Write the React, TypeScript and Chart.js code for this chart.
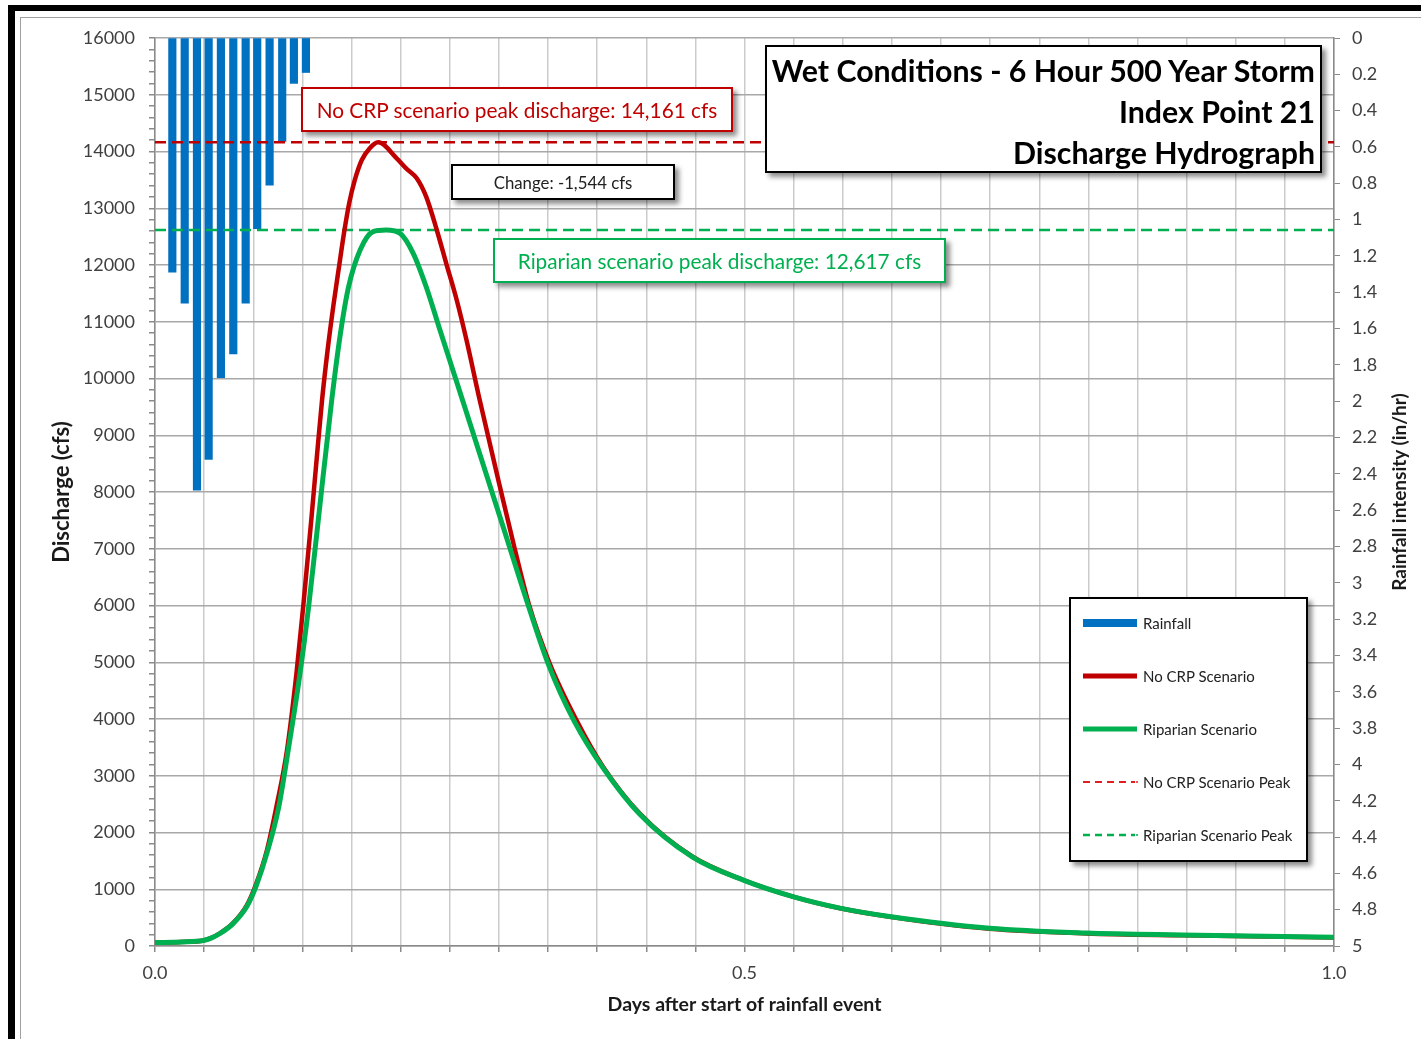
import React, { useEffect, useRef } from 'react';
import { Chart, registerables } from 'chart.js';

Chart.register(...registerables);

// ---------- DATA ----------
const rainDays = [0.0147, 0.0252, 0.0356, 0.0455, 0.0559, 0.0664, 0.0769, 0.0867, 0.0972, 0.1079, 0.1178, 0.128];
const rainIntensity = [1.29, 1.46, 2.49, 2.32, 1.87, 1.74, 1.46, 1.05, 0.81, 0.57, 0.25, 0.19];

const noCrpDays = [
  0.0, 0.022, 0.041, 0.048, 0.055, 0.066, 0.078, 0.086, 0.095, 0.103, 0.112, 0.12, 0.1257, 0.1328, 0.1372, 0.1417,
  0.1464, 0.1514, 0.1563, 0.1606, 0.1648, 0.1695, 0.1754, 0.1818, 0.1893, 0.205, 0.213, 0.222, 0.23,
  0.239, 0.247, 0.2559, 0.2642, 0.2754, 0.2936, 0.3051, 0.3174, 0.3347, 0.3574, 0.38, 0.411, 0.456,
  0.499, 0.541, 0.581, 0.623, 0.708, 0.79, 0.871, 1.0,
];
const noCrpCfs = [
  60, 72, 98, 145, 224, 400, 722, 1105, 1692, 2455, 3454, 4805, 5979, 7565, 8600, 9621,
  10500, 11300, 12000, 12600, 13100, 13500, 13850, 14050, 14161, 13880, 13703, 13528, 13204,
  12617, 12030, 11383, 10678, 9621, 8000, 7000, 6000, 4981, 3982, 3159, 2338, 1573,
  1163, 869, 664, 516, 305, 222, 188, 148,
];

const riparianDays = [
  0.0, 0.022, 0.041, 0.048, 0.055, 0.066, 0.078, 0.086, 0.095, 0.105, 0.113, 0.123, 0.1303, 0.1388, 0.1499, 0.1573,
  0.1642, 0.174, 0.185, 0.196, 0.208, 0.219, 0.23, 0.2408, 0.2517, 0.2608, 0.2858, 0.3012, 0.3166,
  0.3339, 0.3559, 0.38, 0.411, 0.456, 0.499, 0.541, 0.581, 0.623, 0.708, 0.79, 0.871, 1.0,
];
const riparianCfs = [
  60, 72, 97, 143, 220, 390, 700, 1070, 1640, 2455, 3454, 4805, 5979, 7565, 9621, 10797,
  11617, 12264, 12587, 12617, 12555, 12206, 11617, 10913, 10208, 9621, 8000, 7000, 6000,
  4950, 3950, 3140, 2325, 1565, 1160, 870, 668, 520, 312, 228, 194, 155,
];

const noCrpPeak = 14161;
const riparianPeak = 12617;

const xTickValues = [0, 0.5, 1];
const xTickLabels = ['0.0', '0.5', '1.0'];
const xGridHours = 24;

const FONT = 'Lato, "Open Sans", "DejaVu Sans", sans-serif';
const RED = '#c00000';
const GREEN = '#00b050';
const BLUE = '#0070c0';

const legendItems = [
  { label: 'Rainfall', color: BLUE, width: 8, dash: '' },
  { label: 'No CRP Scenario', color: RED, width: 5, dash: '' },
  { label: 'Riparian Scenario', color: GREEN, width: 5, dash: '' },
  { label: 'No CRP Scenario Peak', color: '#e02020', width: 2, dash: '7 5' },
  { label: 'Riparian Scenario Peak', color: GREEN, width: 2.5, dash: '7 5' },
];

export default function App() {
  const ref = useRef<HTMLCanvasElement>(null);

  useEffect(() => {
    const canvas = ref.current;
    if (!canvas) return;
    const chart = new Chart(canvas, {
      type: 'line',
      data: {
        datasets: [
          {
            type: 'line',
            label: 'Riparian Scenario',
            data: riparianDays.map((x, i) => ({ x, y: riparianCfs[i] })),
            borderColor: GREEN,
            borderWidth: 5,
            pointRadius: 0,
            cubicInterpolationMode: 'monotone',
            yAxisID: 'y',
            order: 1,
          },
          {
            type: 'line',
            label: 'No CRP Scenario',
            data: noCrpDays.map((x, i) => ({ x, y: noCrpCfs[i] })),
            borderColor: RED,
            borderWidth: 4.5,
            pointRadius: 0,
            cubicInterpolationMode: 'monotone',
            yAxisID: 'y',
            order: 2,
          },
          {
            type: 'line',
            label: 'No CRP Scenario Peak',
            data: [{ x: 0, y: noCrpPeak }, { x: 1, y: noCrpPeak }],
            borderColor: RED,
            borderWidth: 2.5,
            borderDash: [11, 6],
            pointRadius: 0,
            yAxisID: 'y',
            order: 3,
          },
          {
            type: 'line',
            label: 'Riparian Scenario Peak',
            data: [{ x: 0, y: riparianPeak }, { x: 1, y: riparianPeak }],
            borderColor: GREEN,
            borderWidth: 2.5,
            borderDash: [11, 6],
            pointRadius: 0,
            yAxisID: 'y',
            order: 3,
          },
          {
            type: 'bar',
            label: 'Rainfall',
            data: rainDays.map((x, i) => ({ x, y: rainIntensity[i] })),
            backgroundColor: BLUE,
            barThickness: 7.5,
            xAxisID: 'x',
            yAxisID: 'y2',
            order: 4,
          },
        ] as any,
      },
      options: {
        animation: false,
        responsive: false,
        maintainAspectRatio: false,
        layout: { padding: { top: 38, left: 0, right: 0, bottom: 0 } },
        plugins: { legend: { display: false }, tooltip: { enabled: false } },
        scales: {
          x: {
            type: 'linear',
            min: 0,
            max: 1,
            offset: false,
            grid: { offset: false, color: '#cbcbcb', lineWidth: 1.5, tickColor: '#8a8a8a', tickLength: 6 },
            border: { color: '#8a8a8a', width: 1.5 },
            afterBuildTicks: (s: any) => {
              const t = [];
              for (let h = 0; h <= xGridHours; h++) t.push({ value: h / xGridHours });
              s.ticks = t;
            },
            afterFit: (s: any) => { s.height = 93; },
            ticks: {
              autoSkip: false,
              maxRotation: 0,
              padding: 10,
              color: '#404040',
              font: { family: FONT, size: 18 },
              callback: (v: any) => {
                const i = xTickValues.findIndex((t) => Math.abs(t - Number(v)) < 1e-6);
                return i >= 0 ? xTickLabels[i] : '';
              },
            },
            title: {
              display: true,
              text: 'Days after start of rainfall event',
              color: '#1a1a1a',
              font: { family: FONT, size: 19.5, weight: 'bold' },
              padding: { top: 0, bottom: 23 },
            },
          },
          y: {
            type: 'linear',
            position: 'left',
            min: 0,
            max: 16000,
            grid: {
              color: (c: any) => (c.tick && c.tick.value % 1000 === 0 ? '#a8a8a8' : 'rgba(0,0,0,0)'),
              lineWidth: 1.5,
              tickColor: '#8a8a8a',
              tickLength: 6,
            },
            border: { color: '#8a8a8a', width: 1.5 },
            afterBuildTicks: (s: any) => {
              const t = [];
              for (let v = 0; v <= 16000; v += 200) t.push({ value: v });
              s.ticks = t;
            },
            afterFit: (s: any) => { s.width = 155; },
            ticks: {
              autoSkip: false,
              padding: 14,
              color: '#404040',
              font: { family: FONT, size: 18 },
              callback: (v: any) => (Number(v) % 1000 === 0 ? String(v) : ''),
            },
            title: {
              display: true,
              text: 'Discharge (cfs)',
              color: '#1a1a1a',
              font: { family: FONT, size: 22, weight: 'bold' },
              padding: { top: 49, bottom: 0 },
            },
          },
          y2: {
            type: 'linear',
            position: 'right',
            min: 0,
            max: 5,
            reverse: true,
            grid: { drawOnChartArea: false, color: '#8a8a8a', tickColor: '#8a8a8a', tickLength: 6 },
            border: { color: '#8a8a8a', width: 1.5 },
            afterBuildTicks: (s: any) => {
              const t = [];
              for (let i = 0; i <= 25; i++) t.push({ value: Math.round(i * 2) / 10 });
              s.ticks = t;
            },
            afterFit: (s: any) => { s.width = 87; },
            ticks: {
              autoSkip: false,
              padding: 12,
              color: '#404040',
              font: { family: FONT, size: 18 },
              callback: (v: any) => String(Math.round(Number(v) * 10) / 10),
            },
          },
        },
      } as any,
    });
    return () => chart.destroy();
  }, []);

  const boxShadow = '4px 4px 5px rgba(0,0,0,0.45)';

  return (
    <div style={{ position: 'absolute', left: 0, top: 0, width: 1421, height: 1039, overflow: 'hidden', background: '#fff', fontFamily: FONT }}>
      {/* outer frame */}
      <div style={{ position: 'absolute', left: 8, top: 5, width: 1430, height: 1050, borderLeft: '7px solid #000', borderTop: '6px solid #000' }} />
      <div style={{ position: 'absolute', left: 20, top: 17, width: 1430, height: 1050, borderLeft: '1.5px solid #a0a0a0', borderTop: '1.5px solid #a0a0a0' }} />

      <canvas ref={ref} width={1421} height={1039} style={{ position: 'absolute', left: 0, top: 0 }} />

      {/* right axis title */}
      <div style={{ position: 'absolute', left: 1399 - 150, top: 492 - 11, width: 300, height: 22, lineHeight: '22px', textAlign: 'center', transform: 'rotate(-90deg)', fontWeight: 700, fontSize: 19, color: '#1a1a1a', whiteSpace: 'nowrap' }}>
        Rainfall intensity (in/hr)
      </div>

      {/* title box */}
      <div style={{ position: 'absolute', left: 765, top: 45, width: 557, height: 128, boxSizing: 'border-box', border: '2px solid #000', background: '#fff', boxShadow, textAlign: 'right', padding: '3px 5px 0 0', fontWeight: 700, fontSize: 30.3, lineHeight: '41px', color: '#000', whiteSpace: 'nowrap' }}>
        <div>Wet Conditions - 6 Hour 500 Year Storm</div>
        <div>Index Point 21</div>
        <div>Discharge Hydrograph</div>
      </div>

      {/* annotations */}
      <div style={{ position: 'absolute', left: 301, top: 87, width: 432, height: 45, boxSizing: 'border-box', border: `2px solid ${RED}`, background: '#fff', boxShadow, display: 'flex', alignItems: 'center', justifyContent: 'center', color: RED, fontSize: 20.8, whiteSpace: 'nowrap' }}>
        No CRP scenario peak discharge: 14,161 cfs
      </div>
      <div style={{ position: 'absolute', left: 451, top: 164, width: 224, height: 36, boxSizing: 'border-box', border: '2px solid #000', background: '#fff', boxShadow, display: 'flex', alignItems: 'center', justifyContent: 'center', color: '#222', fontSize: 16.8, whiteSpace: 'nowrap' }}>
        Change: -1,544 cfs
      </div>
      <div style={{ position: 'absolute', left: 493, top: 238, width: 453, height: 45, boxSizing: 'border-box', border: `2px solid ${GREEN}`, background: '#fff', boxShadow, display: 'flex', alignItems: 'center', justifyContent: 'center', color: GREEN, fontSize: 20.8, whiteSpace: 'nowrap' }}>
        Riparian scenario peak discharge: 12,617 cfs
      </div>

      {/* legend */}
      <div style={{ position: 'absolute', left: 1069, top: 597, width: 239, height: 265, boxSizing: 'border-box', border: '2px solid #000', background: '#fff', boxShadow }}>
        {legendItems.map((it, i) => (
          <div key={it.label} style={{ position: 'absolute', left: 12, top: 24 + i * 53 - 10, height: 20, display: 'flex', alignItems: 'center', whiteSpace: 'nowrap' }}>
            <svg width={56} height={12} style={{ display: 'block' }}>
              <line x1={0} y1={6} x2={it.dash ? 52 : 54} y2={6} stroke={it.color} strokeWidth={it.width} strokeDasharray={it.dash || undefined} />
              {it.dash ? <circle cx={54} cy={6} r={1} fill={it.color} /> : null}
            </svg>
            <span style={{ marginLeft: 4, fontSize: 15, color: '#222' }}>{it.label}</span>
          </div>
        ))}
      </div>
    </div>
  );
}
